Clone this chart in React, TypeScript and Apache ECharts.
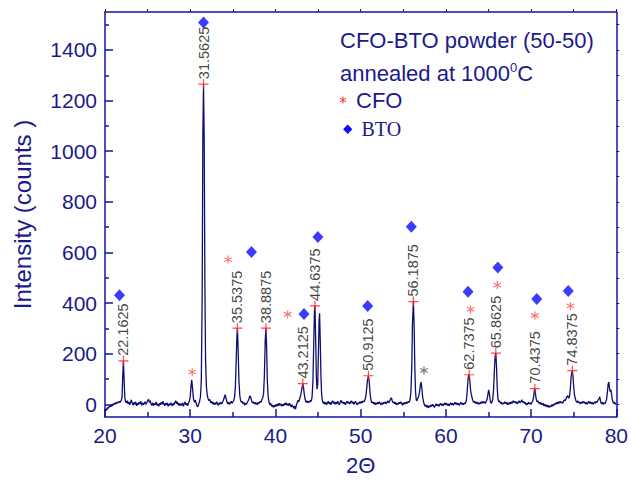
import React, { useEffect, useRef } from "react";
import * as echarts from "echarts";

// ---- data ----
const xrdTrace: [number, number][] = [
  [20.0,-28],[20.1,-18],[20.2,-24],[20.3,-12],[20.4,-16],[20.5,-6],[20.6,-10],[20.7,-2],[20.8,-8],[20.9,2],
  [21.0,-3],[21.1,5],[21.2,0],[21.3,8],[21.4,3],[21.5,10],[21.6,6],[21.7,12],[21.8,8],[21.9,15],
  [22.0,28],[22.08,110],[22.16,172],[22.24,100],[22.32,30],[22.4,12],[22.5,6],[22.6,14],[22.7,2],[22.8,10],
  [22.9,-2],[23.0,8],[23.1,18],[23.2,4],[23.3,-4],[23.4,8],[23.5,0],[23.6,10],[23.7,-6],[23.8,4],
  [23.9,-2],[24.0,8],[24.1,2],[24.2,12],[24.3,-4],[24.4,6],[24.5,-2],[24.6,4],[24.7,10],[24.8,0],
  [24.9,6],[25.0,14],[25.1,20],[25.2,8],[25.3,14],[25.4,2],[25.5,-4],[25.6,6],[25.7,-6],[25.8,4],
  [25.9,-2],[26.0,10],[26.1,-4],[26.2,2],[26.3,-8],[26.4,4],[26.5,-2],[26.6,8],[26.7,0],[26.8,12],
  [26.9,2],[27.0,-6],[27.1,4],[27.2,-2],[27.3,6],[27.4,-8],[27.5,2],[27.6,-4],[27.7,6],[27.8,0],
  [27.9,-6],[28.0,4],[28.1,-2],[28.2,8],[28.3,14],[28.4,2],[28.5,10],[28.6,-4],[28.7,4],[28.8,-6],
  [28.9,2],[29.0,-4],[29.1,6],[29.2,-8],[29.3,2],[29.4,10],[29.5,-2],[29.6,4],[29.7,-6],[29.8,6],
  [29.9,12],[30.0,30],[30.1,75],[30.18,97],[30.28,60],[30.38,22],[30.5,8],[30.6,16],[30.7,4],[30.8,-6],
  [30.9,-10],[31.0,2],[31.1,12],[31.2,30],[31.3,90],[31.4,420],[31.48,1050],[31.56,1265],[31.64,1050],[31.72,480],
  [31.8,180],[31.9,70],[32.0,36],[32.1,22],[32.2,14],[32.3,20],[32.4,6],[32.5,12],[32.6,2],[32.7,8],
  [32.8,-2],[32.9,6],[33.0,0],[33.1,10],[33.2,2],[33.3,-4],[33.4,6],[33.5,0],[33.6,8],[33.7,2],
  [33.8,10],[33.9,16],[34.0,28],[34.1,38],[34.2,24],[34.3,10],[34.4,2],[34.5,8],[34.6,0],[34.7,6],
  [34.8,12],[34.9,4],[35.0,10],[35.1,14],[35.2,28],[35.3,70],[35.4,180],[35.48,270],[35.54,301],[35.62,220],
  [35.72,90],[35.82,34],[35.92,14],[36.0,8],[36.1,12],[36.2,2],[36.3,8],[36.4,-4],[36.5,4],[36.6,0],
  [36.7,8],[36.8,14],[36.9,22],[37.0,34],[37.1,28],[37.2,14],[37.3,6],[37.4,10],[37.5,2],[37.6,8],
  [37.7,0],[37.8,6],[37.9,-2],[38.0,8],[38.1,4],[38.2,12],[38.3,8],[38.4,18],[38.5,24],[38.6,40],
  [38.7,110],[38.8,250],[38.88,301],[38.96,230],[39.05,90],[39.15,30],[39.25,8],[39.35,-2],[39.45,4],[39.55,-8],
  [39.65,-2],[39.75,-12],[39.85,-4],[39.95,-10],[40.05,0],[40.15,-8],[40.25,2],[40.35,-6],[40.45,4],[40.55,-4],
  [40.65,2],[40.75,-8],[40.85,0],[40.95,-6],[41.05,4],[41.15,-2],[41.25,6],[41.35,-4],[41.45,2],[41.55,-6],
  [41.65,4],[41.75,-2],[41.85,-10],[41.95,-2],[42.05,-8],[42.15,-16],[42.25,-6],[42.35,-20],[42.45,-4],[42.55,6],
  [42.65,16],[42.75,10],[42.85,24],[42.95,34],[43.05,52],[43.15,72],[43.21,82],[43.3,64],[43.4,36],[43.5,18],
  [43.6,8],[43.7,14],[43.8,6],[43.9,12],[44.0,8],[44.1,16],[44.2,12],[44.3,30],[44.4,90],[44.5,250],
  [44.58,370],[44.64,389],[44.72,260],[44.8,110],[44.88,60],[44.96,80],[45.04,200],[45.12,330],[45.18,360],[45.26,250],
  [45.34,110],[45.42,40],[45.5,16],[45.6,4],[45.7,10],[45.8,0],[45.9,8],[46.0,-2],[46.1,6],[46.2,12],
  [46.3,2],[46.4,8],[46.5,-2],[46.6,6],[46.7,14],[46.8,4],[46.9,10],[47.0,0],[47.1,8],[47.2,2],
  [47.3,12],[47.4,4],[47.5,-2],[47.6,8],[47.7,16],[47.8,6],[47.9,10],[48.0,2],[48.1,8],[48.2,-2],
  [48.3,6],[48.4,12],[48.5,4],[48.6,10],[48.7,2],[48.8,8],[48.9,14],[49.0,4],[49.1,10],[49.2,0],
  [49.3,6],[49.4,12],[49.5,4],[49.6,-2],[49.7,6],[49.8,2],[49.9,10],[50.0,4],[50.1,12],[50.2,6],
  [50.3,14],[50.4,10],[50.5,18],[50.6,30],[50.7,60],[50.8,95],[50.91,113],[51.0,90],[51.1,45],[51.2,18],
  [51.3,6],[51.4,10],[51.5,2],[51.6,8],[51.7,-2],[51.8,6],[51.9,0],[52.0,8],[52.1,2],[52.2,10],
  [52.3,4],[52.4,-2],[52.5,6],[52.6,0],[52.7,8],[52.8,4],[52.9,10],[53.0,2],[53.1,8],[53.2,14],
  [53.3,6],[53.4,12],[53.5,20],[53.6,26],[53.7,14],[53.8,6],[53.9,10],[54.0,2],[54.1,8],[54.2,-2],
  [54.3,4],[54.4,0],[54.5,8],[54.6,2],[54.7,10],[54.8,4],[54.9,-4],[55.0,6],[55.1,0],[55.2,8],
  [55.3,2],[55.4,10],[55.5,4],[55.6,12],[55.7,8],[55.8,20],[55.9,50],[56.0,150],[56.08,320],[56.19,406],
  [56.28,300],[56.36,140],[56.44,50],[56.52,18],[56.6,14],[56.7,24],[56.8,30],[56.9,48],[57.0,75],[57.08,88],
  [57.16,70],[57.26,34],[57.36,12],[57.46,0],[57.56,-8],[57.66,-2],[57.76,-12],[57.86,-4],[57.96,-14],[58.06,-6],
  [58.16,-10],[58.26,-2],[58.36,-8],[58.46,0],[58.56,-6],[58.66,-12],[58.76,-4],[58.86,2],[58.96,-6],[59.06,0],
  [59.16,-8],[59.26,-2],[59.36,4],[59.46,-4],[59.56,2],[59.66,-6],[59.76,0],[59.86,6],[59.96,-2],[60.06,4],
  [60.16,-4],[60.26,2],[60.36,-6],[60.46,0],[60.56,6],[60.66,-2],[60.76,4],[60.86,-4],[60.96,2],[61.06,8],
  [61.16,0],[61.26,6],[61.36,-2],[61.46,4],[61.56,-4],[61.66,2],[61.76,8],[61.86,0],[61.96,4],[62.06,-2],
  [62.16,6],[62.26,2],[62.36,10],[62.44,26],[62.52,60],[62.6,100],[62.68,114],[62.74,117],[62.82,90],[62.9,56],
  [62.98,40],[63.06,28],[63.14,18],[63.24,8],[63.34,12],[63.44,4],[63.54,10],[63.64,2],[63.74,8],[63.84,0],
  [63.94,6],[64.04,2],[64.14,10],[64.24,4],[64.34,12],[64.44,6],[64.54,10],[64.64,4],[64.74,12],[64.84,20],
  [64.94,40],[65.02,57],[65.1,44],[65.18,20],[65.26,8],[65.34,4],[65.42,10],[65.5,20],[65.6,60],[65.7,140],
  [65.78,190],[65.86,202],[65.94,150],[66.02,70],[66.1,24],[66.2,10],[66.3,14],[66.4,4],[66.5,8],[66.6,0],
  [66.7,6],[66.8,2],[66.9,10],[67.0,4],[67.1,8],[67.2,-2],[67.3,6],[67.4,0],[67.5,8],[67.6,2],
  [67.7,10],[67.8,4],[67.9,14],[68.0,8],[68.1,12],[68.2,4],[68.3,10],[68.4,2],[68.5,8],[68.6,14],
  [68.7,6],[68.8,10],[68.9,18],[69.0,8],[69.1,12],[69.2,4],[69.3,8],[69.4,-2],[69.5,4],[69.6,0],
  [69.7,8],[69.8,2],[69.9,6],[70.0,0],[70.1,8],[70.2,14],[70.3,30],[70.38,55],[70.44,62],[70.52,40],
  [70.6,20],[70.7,10],[70.8,14],[70.9,4],[71.0,8],[71.1,0],[71.2,6],[71.3,-2],[71.4,4],[71.5,-6],
  [71.6,0],[71.7,-8],[71.8,-2],[71.9,-10],[72.0,-4],[72.1,-12],[72.2,-6],[72.3,-10],[72.4,-2],[72.5,-8],
  [72.6,0],[72.7,-4],[72.8,4],[72.9,0],[73.0,8],[73.1,2],[73.2,10],[73.3,4],[73.4,12],[73.5,6],
  [73.6,10],[73.7,4],[73.8,12],[73.9,18],[74.0,14],[74.1,22],[74.2,30],[74.3,34],[74.4,24],[74.5,30],
  [74.6,60],[74.7,110],[74.78,128],[74.84,133],[74.92,110],[75.0,70],[75.08,40],[75.16,26],[75.26,14],[75.36,8],
  [75.46,14],[75.56,6],[75.66,10],[75.76,2],[75.86,8],[75.96,4],[76.06,12],[76.16,6],[76.26,10],[76.36,2],
  [76.46,8],[76.56,0],[76.66,6],[76.76,12],[76.86,4],[76.96,10],[77.06,2],[77.16,8],[77.26,0],[77.36,6],
  [77.46,10],[77.56,4],[77.66,12],[77.76,8],[77.86,16],[77.96,22],[78.06,30],[78.16,10],[78.26,2],[78.36,8],
  [78.46,0],[78.56,6],[78.66,2],[78.76,10],[78.86,20],[78.96,50],[79.04,80],[79.12,88],[79.2,64],[79.28,50],
  [79.36,58],[79.44,40],[79.52,20],[79.6,10],[79.7,4],[79.8,8],[79.9,0],[80.0,4]
];

const peakPositions = [22.1625, 31.5625, 35.5375, 38.8875, 43.2125, 44.6375, 50.9125, 56.1875, 62.7375, 65.8625, 70.4375, 74.8375];
const peakHeights = [172, 1265, 301, 301, 82, 389, 113, 406, 117, 202, 62, 133];

const btoX = [21.7, 31.56, 37.19, 43.35, 44.98, 50.82, 55.95, 62.6, 66.1, 70.66, 74.36];
const btoY = [431, 1509, 602, 357, 661, 389, 702, 445, 541, 416, 448];

const cfoX = [30.23, 34.44, 41.44, 62.9, 66.03, 70.45, 74.6];
const cfoY = [127, 572, 356, 375, 471, 351, 389];

const otherX = [57.43];
const otherY = [134];

const yMajorTicks = [0, 200, 400, 600, 800, 1000, 1200, 1400];
const yMinorTicks = [100, 300, 500, 700, 900, 1100, 1300, 1500];
const yRightTicks = [0, 100, 200, 300, 400, 500, 600, 700, 800, 900, 1000, 1100, 1200, 1300, 1400, 1500];

// ---- styles ----
const NAVY = "#1a1a8c";
const AXIS = "#1414a0";
const TRACE = "#0d0d73";
const FONT = "Arial, 'Liberation Sans', sans-serif";

const PLUS =
  "path://M4.4,0H5.6V4.4H10V5.6H5.6V10H4.4V5.6H0V4.4H4.4Z";
const ASTERISK =
  "path://M4.4,0H5.6V10H4.4Z M9.03,8.02L9.63,6.98L0.97,1.98L0.37,3.02Z M9.63,3.02L9.03,1.98L0.37,6.98L0.97,8.02Z";

export default function App() {
  const ref = useRef<HTMLDivElement>(null);

  useEffect(() => {
    if (!ref.current) return;
    const chart = echarts.init(ref.current, null, { renderer: "svg" });

    const zip = (xs: number[], ys: number[]) => xs.map((x, i) => [x, ys[i]]);

    const option: any = {
      animation: false,
      backgroundColor: "#ffffff",
      grid: { left: 105, right: 13, top: 12, bottom: 61 },
      xAxis: [
        {
          type: "value",
          position: "bottom",
          min: 20,
          max: 80,
          interval: 10,
          name: "2\u0398",
          nameLocation: "middle",
          nameGap: 37,
          nameTextStyle: { color: NAVY, fontSize: 22, fontFamily: FONT },
          axisLine: { show: true, onZero: false, lineStyle: { color: AXIS, width: 1.5 } },
          axisTick: { show: true, inside: true, length: 8, lineStyle: { color: AXIS, width: 1.5 } },
          minorTick: { show: true, splitNumber: 2, length: 5, lineStyle: { color: AXIS, width: 1.5 } },
          axisLabel: { color: NAVY, fontSize: 21, fontFamily: FONT, margin: 8, formatter: (v: number) => String(v) },
          splitLine: { show: false },
        },
        {
          type: "value",
          position: "top",
          min: 20,
          max: 80,
          interval: 5,
          axisLine: { show: true, onZero: false, lineStyle: { color: AXIS, width: 1.5 } },
          axisTick: { show: true, inside: false, length: 3, lineStyle: { color: AXIS, width: 1 } },
          axisLabel: { show: false },
          splitLine: { show: false },
        },
      ],
      yAxis: [
        {
          type: "value",
          position: "left",
          min: -50,
          max: 1550,
          name: "Intensity (counts )",
          nameLocation: "middle",
          nameGap: 71,
          nameTextStyle: { color: NAVY, fontSize: 24, fontFamily: FONT },
          axisLine: { show: true, onZero: false, lineStyle: { color: AXIS, width: 1.5 } },
          axisTick: { show: true, inside: true, length: 8, customValues: yMajorTicks, lineStyle: { color: AXIS, width: 1.5 } },
          axisLabel: {
            color: NAVY,
            fontSize: 21,
            fontFamily: FONT,
            margin: 8,
            customValues: yMajorTicks,
            formatter: (v: number) => String(v),
          },
          splitLine: { show: false },
        },
        {
          type: "value",
          position: "left",
          min: -50,
          max: 1550,
          axisLine: { show: false, onZero: false },
          axisTick: { show: true, inside: true, length: 4, customValues: yMinorTicks, lineStyle: { color: AXIS, width: 1.5 } },
          axisLabel: { show: false },
          splitLine: { show: false },
        },
        {
          type: "value",
          position: "right",
          min: -50,
          max: 1550,
          axisLine: { show: true, onZero: false, lineStyle: { color: AXIS, width: 1.5 } },
          axisTick: { show: true, inside: false, length: 3, customValues: yRightTicks, lineStyle: { color: AXIS, width: 1 } },
          axisLabel: { show: false },
          splitLine: { show: false },
        },
      ],
      series: [
        {
          type: "line",
          name: "XRD",
          data: xrdTrace,
          showSymbol: false,
          symbol: "none",
          lineStyle: { color: TRACE, width: 1.3 },
          z: 2,
        },
        {
          type: "scatter",
          name: "peaks",
          data: zip(peakPositions, peakHeights),
          symbol: PLUS,
          symbolSize: 10,
          itemStyle: { color: "#ff1a1a" },
          label: {
            show: true,
            position: "top",
            rotate: 90,
            align: "left",
            verticalAlign: "middle",
            distance: 0,
            color: "#111111",
            fontSize: 14.5,
            fontFamily: FONT,
            formatter: (p: any) => String(p.value[0]),
          },
          z: 4,
        },
        {
          type: "scatter",
          name: "BTO",
          data: zip(btoX, btoY),
          symbol: "diamond",
          symbolSize: [11, 12],
          itemStyle: { color: "#0a0aff" },
          z: 5,
        },
        {
          type: "scatter",
          name: "CFO",
          data: zip(cfoX, cfoY),
          symbol: ASTERISK,
          symbolSize: 8,
          itemStyle: { color: "#ff3333" },
          z: 5,
        },
        {
          type: "scatter",
          name: "other",
          data: zip(otherX, otherY),
          symbol: ASTERISK,
          symbolSize: 8,
          itemStyle: { color: "#333333" },
          z: 5,
        },
      ],
      graphic: [
        {
          type: "text",
          x: 340,
          y: 40,
          style: {
            text: "CFO-BTO powder (50-50)",
            fill: NAVY,
            fontSize: 22,
            fontFamily: FONT,
            verticalAlign: "middle",
          },
        },
        {
          type: "text",
          x: 340,
          y: 73,
          style: {
            text: "annealed at 1000{sup|0}C",
            fill: NAVY,
            fontSize: 22,
            fontFamily: FONT,
            verticalAlign: "middle",
            rich: {
              sup: { fontSize: 13, fontFamily: FONT, fill: NAVY, verticalAlign: "top", padding: [0, 0, 12, 0] },
            },
          },
        },
        {
          type: "line",
          shape: { x1: 343, y1: 96.5, x2: 343, y2: 103.5 },
          style: { stroke: "#ff3333", lineWidth: 1 },
        },
        {
          type: "line",
          shape: { x1: 340, y1: 98.2, x2: 346, y2: 101.8 },
          style: { stroke: "#ff3333", lineWidth: 1 },
        },
        {
          type: "line",
          shape: { x1: 340, y1: 101.8, x2: 346, y2: 98.2 },
          style: { stroke: "#ff3333", lineWidth: 1 },
        },
        {
          type: "text",
          x: 356,
          y: 100,
          style: { text: "CFO", fill: NAVY, fontSize: 22, fontFamily: FONT, verticalAlign: "middle" },
        },
        {
          type: "polygon",
          shape: { points: [[347.7, 124.5], [352.3, 129.3], [347.7, 134.1], [343.1, 129.3]] },
          style: { fill: "#0a0aff" },
        },
        {
          type: "text",
          x: 361.5,
          y: 128.5,
          style: {
            text: "BTO",
            fill: NAVY,
            fontSize: 20,
            fontFamily: "'Liberation Serif', 'Times New Roman', serif",
            verticalAlign: "middle",
          },
        },
      ],
    };

    chart.setOption(option);
    return () => chart.dispose();
  }, []);

  return (
    <div
      ref={ref}
      style={{ position: "fixed", left: 0, top: 0, width: 631, height: 481, background: "#fff" }}
    />
  );
}
